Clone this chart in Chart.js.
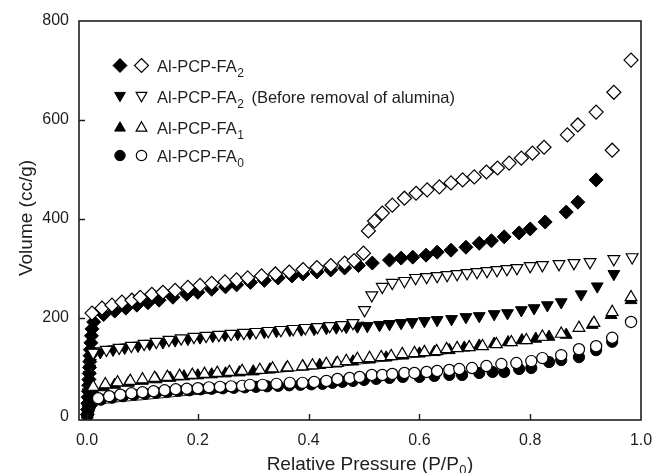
<!DOCTYPE html>
<html>
<head>
<meta charset="utf-8">
<script src="https://cdn.jsdelivr.net/npm/chart.js@4.4.1/dist/chart.umd.min.js"></script>
<style>
html,body{margin:0;padding:0;background:#fff;}
#wrap{width:653px;height:473px;position:relative;}
</style>
</head>
<body>
<div id="wrap"><canvas id="c"></canvas></div>
<script>
// ---------------- DATA ----------------
// Al-PCP-FA2 : adsorption (filled diamond) / desorption (open diamond)
const FA2_ADS_X = [0.0005,0.001,0.0015,0.002,0.0025,0.003,0.0035,0.004,0.0045,0.005,0.0055,0.006,0.007,0.008,0.009,0.012,0.03,0.05,0.07,0.09,0.11,0.13,0.155,0.18,0.2,0.225,0.25,0.27,0.295,0.32,0.345,0.37,0.39,0.415,0.44,0.465,0.49,0.515,0.546,0.567,0.588,0.612,0.632,0.657,0.684,0.708,0.73,0.753,0.78,0.80,0.827,0.865,0.886,0.919];
const FA2_ADS_Y = [5,15,28,40,52,64,76,88,100,112,124,136,150,164,178,192,207,214,220,226,231,236,242,248,252,258,263,267,272,276,281,285,289,293,297,301,306,311,317,321,323,327,333,337,343,351,356,364,372,380,394,414,434,479];
const FA2_DES_X = [0.009,0.027,0.045,0.063,0.081,0.096,0.117,0.137,0.159,0.182,0.204,0.225,0.249,0.27,0.29,0.315,0.34,0.365,0.39,0.415,0.44,0.465,0.482,0.499,0.508,0.519,0.533,0.551,0.573,0.594,0.614,0.636,0.657,0.678,0.699,0.721,0.741,0.762,0.784,0.804,0.825,0.867,0.886,0.919,0.951,0.982,0.948];
const FA2_DES_Y = [210,220,226,232,236,242,248,252,256,262,266,270,273,277,281,285,289,293,298,302,306,311,316,331,376,396,412,428,442,452,459,465,473,479,485,495,503,513,523,533,545,570,590,616,656,721,539];

// Al-PCP-FA2 before removal of alumina : filled / open down-triangles
const FA2B_ADS_X = [0.0005,0.001,0.0015,0.002,0.003,0.004,0.005,0.006,0.007,0.01,0.024,0.047,0.068,0.092,0.113,0.137,0.159,0.182,0.204,0.227,0.249,0.272,0.294,0.32,0.342,0.366,0.387,0.41,0.432,0.45,0.468,0.488,0.506,0.528,0.546,0.567,0.587,0.609,0.632,0.658,0.684,0.708,0.735,0.759,0.784,0.807,0.831,0.856,0.892,0.921,0.951];
const FA2B_ADS_Y = [8,20,35,50,68,85,98,110,120,127,131,136,140,144,148,151,155,158,161,164,166,168,170,172,174,176,177,178,180,181,182,183,184,186,188,190,192,194,196,198,202,204,208,210,216,220,226,232,248,264,289];
const FA2B_DES_X = [0.011,0.035,0.058,0.08,0.103,0.125,0.148,0.17,0.193,0.215,0.238,0.26,0.283,0.305,0.327,0.35,0.372,0.394,0.416,0.438,0.46,0.48,0.501,0.514,0.533,0.551,0.573,0.593,0.613,0.632,0.65,0.668,0.686,0.704,0.722,0.74,0.758,0.776,0.80,0.822,0.852,0.879,0.908,0.951,0.984];
const FA2B_DES_Y = [130,136,140,144,148,152,156,159,162,164,166,168,170,172,174,176,178,180,182,184,186,190,216,246,263,271,275,281,283,285,287,289,291,293,295,297,299,301,305,307,309,311,313,319,323];
const FA2B_LINE_X = [0.011,0.1,0.2,0.312,0.4,0.5];
const FA2B_LINE_Y = [139,153,165,178,185,192];

// Al-PCP-FA1 : filled / open up-triangles
const FA1_ADS_X = [0.0005,0.001,0.0015,0.002,0.003,0.004,0.0055,0.007,0.011,0.03,0.05,0.075,0.1,0.125,0.15,0.175,0.2,0.225,0.25,0.275,0.3,0.33,0.36,0.39,0.42,0.45,0.48,0.51,0.54,0.57,0.6,0.627,0.654,0.681,0.708,0.735,0.76,0.785,0.81,0.834,0.865,0.912,0.946,0.982];
const FA1_ADS_Y = [5,12,20,28,36,42,47,51,55,60,65,69,73,76,79,82,84,86,88,90,92,96,99,102,105,108,112,116,120,124,128,131,135,140,144,148,151,155,158,162,166,186,206,236];
const FA1_DES_X = [0.011,0.033,0.055,0.078,0.1,0.122,0.145,0.167,0.19,0.212,0.235,0.257,0.28,0.312,0.335,0.362,0.389,0.407,0.432,0.452,0.468,0.488,0.51,0.531,0.549,0.569,0.591,0.609,0.631,0.649,0.668,0.69,0.714,0.739,0.766,0.793,0.822,0.856,0.888,0.915,0.948,0.982];
const FA1_DES_Y = [61,66,70,73,76,79,81,83,85,87,89,91,93,95,98,100,102,104,107,109,113,117,119,121,123,127,129,131,133,137,139,141,143,147,151,155,162,168,180,190,212,242];
const FA1_LINE_X = [0.011,0.1,0.2,0.3,0.4,0.5,0.6,0.65];
const FA1_LINE_Y = [55,68,78,86,96,108,122,128];

// Al-PCP-FA0 : filled / open circles
const FA0_ADS_X = [0.0005,0.001,0.002,0.003,0.0045,0.006,0.008,0.01,0.025,0.045,0.065,0.085,0.105,0.125,0.145,0.165,0.185,0.205,0.225,0.245,0.265,0.285,0.305,0.325,0.345,0.365,0.385,0.405,0.425,0.443,0.461,0.48,0.5,0.522,0.546,0.57,0.6,0.627,0.654,0.677,0.708,0.732,0.753,0.78,0.802,0.834,0.856,0.888,0.919,0.948];
const FA0_ADS_Y = [2,6,11,15,20,24,27,30,35,39,42,45,47,49,51,53,54,56,57,58,59,60,61,62,63,64,65,66,67,69,71,73,75,77,79,81,81,83,85,85,89,91,91,97,99,111,115,121,135,152];
const FA0_DES_X = [0.02,0.04,0.06,0.08,0.1,0.12,0.14,0.16,0.18,0.2,0.22,0.24,0.26,0.28,0.294,0.317,0.342,0.366,0.389,0.41,0.432,0.452,0.474,0.492,0.514,0.533,0.551,0.573,0.591,0.613,0.632,0.654,0.672,0.695,0.721,0.748,0.775,0.802,0.822,0.856,0.888,0.919,0.948,0.982];
const FA0_DES_Y = [38,42,45,48,50,52,54,56,57,58,60,61,62,63,65,65,67,69,69,71,73,77,79,81,85,85,87,89,89,91,93,95,97,99,103,107,109,113,119,125,137,143,160,192];
const FA0_LINE_X = [0.006,0.01,0.03,0.1,0.2,0.312,0.45];
const FA0_LINE_Y = [5,18,27,35,46,57,67];

// Axis ticks and text
const X_TICKS = [0.0,0.2,0.4,0.6,0.8,1.0];
const Y_TICKS = [0,200,400,600,800];
const X_TITLE = 'Relative Pressure (P/P';
const X_TITLE_SUB = '0';
const Y_TITLE = 'Volume (cc/g)';
const LEGEND_MAIN = ['Al-PCP-FA','Al-PCP-FA','Al-PCP-FA','Al-PCP-FA'];
const LEGEND_SUB = ['2','2','1','0'];
const LEGEND_EXTRA = ['','(Before removal of alumina)','',''];
const LEGEND_SHAPE = ['diamond','down','up','circle'];

// ---------------- BUILD ----------------
const FONT = "'Liberation Sans', Arial, Helvetica, sans-serif";
const INK = '#1e1e1e';
function pts(xs, ys){ return xs.map((x,i)=>({x:x, y:ys[i]})); }

function markerSet(label, xs, ys, style, rot, r, filled){
  return {
    label, data: pts(xs, ys), showLine:false,
    pointStyle: style, pointRotation: rot, pointRadius: r, pointHoverRadius: r,
    backgroundColor: filled ? '#000' : '#fff',
    borderColor: '#000', borderWidth: filled ? 1 : 1.2,
    order: filled ? 1 : 0
  };
}
function lineSet(xs, ys){
  return {
    data: pts(xs, ys), showLine:true, pointRadius:0, borderColor:'#000',
    borderWidth:0.9, cubicInterpolationMode:'monotone', fill:false, order:2
  };
}

const datasets = [
  lineSet(FA2B_LINE_X, FA2B_LINE_Y),
  lineSet(FA1_LINE_X, FA1_LINE_Y),
  lineSet(FA0_LINE_X, FA0_LINE_Y),
  markerSet('FA2 ads', FA2_ADS_X, FA2_ADS_Y, 'rectRot', 0, 7, true),
  markerSet('FA2b ads', FA2B_ADS_X, FA2B_ADS_Y, 'triangle', 180, 6.8, true),
  markerSet('FA1 ads', FA1_ADS_X, FA1_ADS_Y, 'triangle', 0, 6.8, true),
  markerSet('FA0 ads', FA0_ADS_X, FA0_ADS_Y, 'circle', 0, 5.6, true),
  markerSet('FA2 des', FA2_DES_X, FA2_DES_Y, 'rectRot', 0, 7, false),
  markerSet('FA2b des', FA2B_DES_X, FA2B_DES_Y, 'triangle', 180, 6.8, false),
  markerSet('FA1 des', FA1_DES_X, FA1_DES_Y, 'triangle', 0, 6.8, false),
  markerSet('FA0 des', FA0_DES_X, FA0_DES_Y, 'circle', 0, 5.6, false)
];

function drawShape(ctx, shape, x, y, r, filled){
  ctx.beginPath();
  if (shape === 'diamond'){
    ctx.moveTo(x, y-r); ctx.lineTo(x+r, y); ctx.lineTo(x, y+r); ctx.lineTo(x-r, y); ctx.closePath();
  } else if (shape === 'up' || shape === 'down'){
    const s = shape === 'up' ? 1 : -1;
    const h = r*Math.sin(Math.PI/3);
    ctx.moveTo(x, y - s*r); ctx.lineTo(x + h, y + s*r/2); ctx.lineTo(x - h, y + s*r/2); ctx.closePath();
  } else {
    ctx.arc(x, y, r, 0, Math.PI*2);
  }
  ctx.fillStyle = filled ? '#000' : '#fff';
  ctx.fill();
  ctx.lineWidth = filled ? 1 : 1.2;
  ctx.strokeStyle = '#000';
  ctx.stroke();
}

const decor = {
  id:'decor',
  afterDatasetsDraw(chart){
    const ctx = chart.ctx, a = chart.chartArea;
    const xs = chart.scales.x, ys = chart.scales.y;
    ctx.save();
    // frame
    ctx.strokeStyle = INK; ctx.lineWidth = 1.6;
    ctx.strokeRect(a.left, a.top, a.right - a.left, a.bottom - a.top);
    // inward ticks
    ctx.lineWidth = 1.4;
    ctx.beginPath();
    X_TICKS.forEach(v=>{
      const px = Math.round(xs.getPixelForValue(v)) + 0.5;
      if (px > a.left + 3 && px < a.right - 3){ ctx.moveTo(px, a.bottom); ctx.lineTo(px, a.bottom - 6); }
    });
    Y_TICKS.forEach(v=>{
      const py = Math.round(ys.getPixelForValue(v)) + 0.5;
      if (py > a.top + 3 && py < a.bottom - 6){ ctx.moveTo(a.left, py); ctx.lineTo(a.left + 6, py); }
    });
    ctx.stroke();

    ctx.fillStyle = INK;
    ctx.textBaseline = 'alphabetic';
    // x title with subscript
    ctx.font = '19px ' + FONT;
    const w1 = ctx.measureText(X_TITLE).width;
    ctx.font = '13px ' + FONT;
    const w2 = ctx.measureText(X_TITLE_SUB).width;
    ctx.font = '19px ' + FONT;
    const w3 = ctx.measureText(')').width;
    const total = w1 + w2 + w3 + 1;
    let tx = 370 - total/2;
    const tb = 470;
    ctx.textAlign = 'left';
    ctx.fillText(X_TITLE, tx, tb);
    ctx.font = '13px ' + FONT;
    ctx.fillText(X_TITLE_SUB, tx + w1 + 0.5, tb + 4);
    ctx.font = '19px ' + FONT;
    ctx.fillText(')', tx + w1 + w2 + 1, tb);
    // y title
    ctx.save();
    ctx.translate(31.5, 218);
    ctx.rotate(-Math.PI/2);
    ctx.textAlign = 'center';
    ctx.font = '19px ' + FONT;
    ctx.fillText(Y_TITLE, 0, 0);
    ctx.restore();

    // legend
    const baselines = [72, 103, 133.5, 162];
    const mr = {diamond:7, down:6.2, up:6.2, circle:5.2};
    LEGEND_MAIN.forEach((txt, i)=>{
      const b = baselines[i];
      const cy = b - 6.5;
      const sh = LEGEND_SHAPE[i];
      const yOff = sh === 'down' ? -1 : (sh === 'up' ? 1 : 0);
      drawShape(ctx, sh, 120, cy + yOff, mr[sh], true);
      drawShape(ctx, sh, 141.5, cy + yOff, mr[sh], false);
      ctx.fillStyle = INK;
      ctx.textAlign = 'left';
      ctx.font = '16.5px ' + FONT;
      ctx.fillText(txt, 157, b);
      const mw = ctx.measureText(txt).width;
      ctx.font = '12px ' + FONT;
      ctx.fillText(LEGEND_SUB[i], 157 + mw + 0.5, b + 5);
      const sw = ctx.measureText(LEGEND_SUB[i]).width;
      if (LEGEND_EXTRA[i]){
        ctx.font = '16.5px ' + FONT;
        ctx.fillText(LEGEND_EXTRA[i], 157 + mw + sw + 8, b);
      }
    });
    ctx.restore();
  }
};

Chart.defaults.font.family = FONT;
Chart.defaults.color = INK;

new Chart(document.getElementById('c'), {
  type:'scatter',
  data:{ datasets },
  options:{
    responsive:true, maintainAspectRatio:false, animation:false, devicePixelRatio:1,
    events:[],
    layout:{ padding:{ left:0, right:12, top:21, bottom:0 } },
    plugins:{ legend:{display:false}, tooltip:{enabled:false}, title:{display:false} },
    scales:{
      x:{
        type:'linear', min:-0.0145, max:1.0,
        grid:{ display:false, drawTicks:false }, border:{ display:false },
        afterBuildTicks: s => { s.ticks = X_TICKS.map(v=>({value:v})); },
        ticks:{ font:{size:16}, color:INK, padding:11, maxRotation:0, autoSkip:false,
                callback: v => Number(v).toFixed(1) },
        afterFit: s => { s.height = 53; s.paddingLeft = 0; s.paddingRight = 0; }
      },
      y:{
        type:'linear', min:-6, max:800,
        grid:{ display:false, drawTicks:false }, border:{ display:false },
        afterBuildTicks: s => { s.ticks = Y_TICKS.map(v=>({value:v})); },
        ticks:{ font:{size:16}, color:INK, padding:10, autoSkip:false,
                callback: v => String(Math.round(v)) },
        afterFit: s => { s.width = 79; s.paddingTop = 0; s.paddingBottom = 0; }
      }
    }
  },
  plugins:[decor]
});
</script>
</body>
</html>
